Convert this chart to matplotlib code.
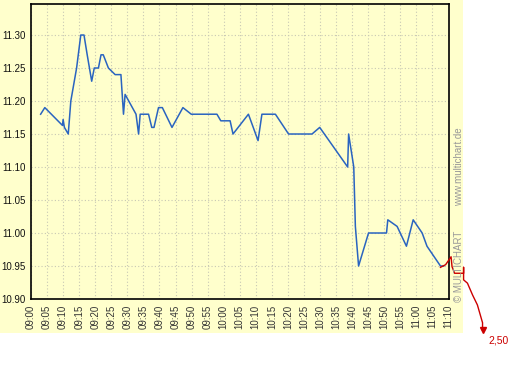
import matplotlib
matplotlib.use("Agg")
import matplotlib.pyplot as plt
from matplotlib.patches import Rectangle

# ---- data (minutes after 09:00, price) ----
minutes = [3.0, 4.3, 9.8, 10.0, 10.4, 11.6, 12.4, 14.2, 15.5, 16.5, 17.5, 18.9,
           19.7, 21.0, 21.8, 22.5, 24.1, 26.2, 28.0, 28.8, 29.3, 32.7, 33.5,
           34.0, 36.6, 37.6, 38.3, 39.7, 40.9, 43.9, 47.3, 49.9, 57.9, 59.1,
           62.0, 62.9, 67.7, 70.7, 71.9, 76.1, 80.2, 87.5, 89.9, 98.6, 98.9,
           100.5, 101.0, 102.0, 105.1, 110.7, 111.1, 114.0, 116.9, 119.0,
           121.8, 123.3, 127.5, 128.5]
prices = [11.18, 11.19, 11.163, 11.172, 11.16, 11.15, 11.20, 11.25, 11.30, 11.30,
          11.27, 11.23, 11.25, 11.25, 11.27, 11.27, 11.25, 11.24, 11.24, 11.18,
          11.21, 11.18, 11.15, 11.18, 11.18, 11.16, 11.16, 11.19, 11.19, 11.16,
          11.19, 11.18, 11.18, 11.17, 11.17, 11.15, 11.18, 11.14, 11.18, 11.18,
          11.15, 11.15, 11.16, 11.10, 11.15, 11.10, 11.01, 10.95, 11.00, 11.00,
          11.02, 11.01, 10.98, 11.02, 11.00, 10.98, 10.95, 10.95]

red_minutes = [127.5, 129.1, 130.8, 131.1, 131.9, 134.7, 134.7, 134.7, 135.9,
               137.5, 139.0, 140.6, 140.6]
red_prices = [10.948, 10.952, 10.964, 10.949, 10.939, 10.939, 10.948, 10.929,
              10.924, 10.906, 10.891, 10.864, 10.853]
red_label = "2,50"

tick_minutes = list(range(0, 131, 5))
tick_labels = ["%02d:%02d" % (9 + m // 60, m % 60) for m in tick_minutes]
y_ticks = [10.90, 10.95, 11.00, 11.05, 11.10, 11.15, 11.20, 11.25, 11.30]

plt.rcParams['font.family'] = ['Liberation Sans', 'DejaVu Sans']

W, H = 512, 366
fig = plt.figure(figsize=(W / 100, H / 100), dpi=100, facecolor='white')
YEL = '#FFFFCC'
fig.patches.append(Rectangle((0, 1 - 333 / H), 463 / W, 333 / H,
                             transform=fig.transFigure, facecolor=YEL,
                             edgecolor='none', zorder=-10))

ax = fig.add_axes([31 / W, 1 - 299 / H, (448.5 - 31) / W, (299 - 4) / H])
ax.set_zorder(1)
ax.set_facecolor(YEL)
ax.set_xlim(0, 130)
ax.set_ylim(10.90, 11.347)

ax.set_xticks(tick_minutes)
ax.set_xticklabels(tick_labels, rotation=90, fontsize=7, color='#333333')
ax.set_yticks(y_ticks)
ax.set_yticklabels(["%.2f" % v for v in y_ticks], fontsize=7, color='#111111')
ax.tick_params(length=0, pad=4)
ax.grid(True, color='#c8c8b4', linestyle=(0, (1, 2)), linewidth=0.8)
ax.set_axisbelow(True)
for s in ax.spines.values():
    s.set_color('black')
    s.set_linewidth(1.2)

ax.plot(minutes, prices, color='#2a64c0', linewidth=1.1, zorder=3)
ax.plot(red_minutes, red_prices, color='#cc0000', linewidth=1.0, zorder=4,
        clip_on=False)
ax.plot([red_minutes[-1]], [red_prices[-1]], marker='v', color='#cc0000',
        markersize=5, clip_on=False, zorder=4)
ax.annotate(red_label, (red_minutes[-1], red_prices[-1]), xytext=(4, -10),
            textcoords='offset points', color='#cc0000', fontsize=7.5,
            annotation_clip=False)

fig.text(459 / W, 1 - 266 / H, "© MULTICHART", rotation=90, ha='center',
         va='center', fontsize=7, color='#999999')
fig.text(459 / W, 1 - 167 / H, "www.multichart.de", rotation=90, ha='center',
         va='center', fontsize=7, color='#999999')

fig.savefig("out.png", dpi=100, facecolor='white')
